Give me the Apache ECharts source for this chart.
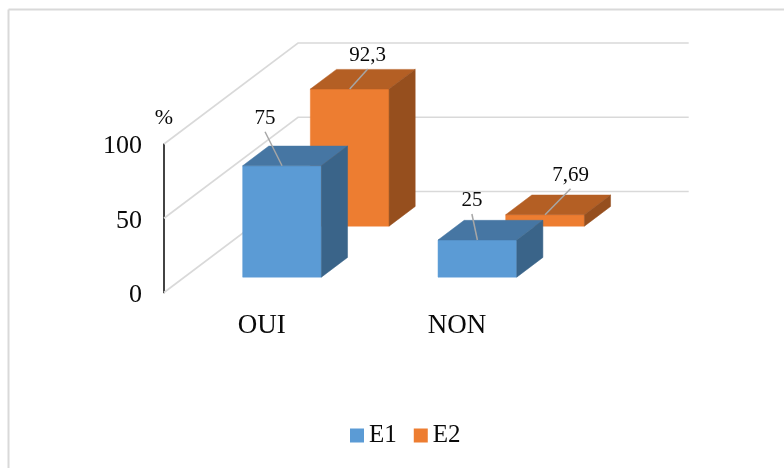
<!DOCTYPE html>
<html>
<head>
<meta charset="utf-8">
<style>
  html, body { margin: 0; padding: 0; background: #fff; }
  #chart { width: 784px; height: 468px; }
</style>
<script src="https://cdn.jsdelivr.net/npm/echarts@6/dist/echarts.min.js"></script>
</head>
<body>
<div id="chart"></div>
<script>
const categories = ['OUI', 'NON'];
const seriesE1 = [75, 25];
const seriesE2 = [92.3, 7.69];
const valueTicks = [0, 50, 100];

// Oblique projection: how far the back wall sits from the axis plane, in pixels.
const WALL_DX = 134;
const WALL_DY = -101;
const FONT = '"Liberation Serif", "Times New Roman", serif';
const GRID_COLOR = '#D9D9D9';
const TEXT_COLOR = '#0A0A0A';

// Where each row of bars sits along the depth, and how deep a bar is.
const BAR_DEPTH = 0.195;
const BAR_WIDTH_RATIO = 0.403;
const rows = {
  E1: { depth: 0.152, colors: ['#5B9BD5', '#4676A3', '#3A6489'],
        leader: [[-17, -34], [-5.5, -26]] },
  E2: { depth: 0.657, colors: ['#ED7D31', '#B45F24', '#964F1E'],
        leader: [[18, -20], [25.5, -26]] }
};

function formatValue(v) {
  return String(v).replace('.', ',');
}

// Back wall: one line per tick, running from the axis back and then along the wall.
function renderWall(params, api) {
  const rect = params.coordSys;
  const p = api.coord([0, api.value(0)]);
  const y = p[1];
  const x0 = rect.x;
  return {
    type: 'polyline',
    shape: { points: [
      [x0, y],
      [x0 + WALL_DX, y + WALL_DY],
      [x0 + rect.width + WALL_DX, y + WALL_DY]
    ] },
    style: { stroke: GRID_COLOR, lineWidth: 1.6, fill: null },
    silent: true
  };
}

// One oblique box: front, top and side faces, plus leader line and value label.
function renderBox(row) {
  return function (params, api) {
    const cat = api.value(0);
    const val = api.value(1);
    const band = api.size([1, 0])[0];
    const w = band * BAR_WIDTH_RATIO;
    const top = api.coord([cat, val]);
    const base = api.coord([cat, 0]);
    const ox = WALL_DX * row.depth;
    const oy = WALL_DY * row.depth;
    const dx = WALL_DX * BAR_DEPTH;
    const dy = WALL_DY * BAR_DEPTH;
    const left = top[0] - w / 2 + ox;
    const right = left + w;
    const yTop = top[1] + oy;
    const yBase = base[1] + oy;
    const midX = (left + right) / 2;
    const off = row.leader[params.dataIndex];
    const face = (points, fill) => ({
      type: 'polygon',
      shape: { points },
      style: { fill, stroke: fill, lineWidth: 0.5 }
    });
    return {
      type: 'group',
      children: [
        face([[left, yBase], [right, yBase], [right, yTop], [left, yTop]], row.colors[0]),
        face([[left, yTop], [right, yTop], [right + dx, yTop + dy], [left + dx, yTop + dy]], row.colors[1]),
        face([[right, yBase], [right + dx, yBase + dy], [right + dx, yTop + dy], [right, yTop]], row.colors[2]),
        {
          type: 'line',
          shape: { x1: midX, y1: yTop, x2: midX + off[0], y2: yTop + off[1] },
          style: { stroke: '#A6A6A6', lineWidth: 1.5 }
        },
        {
          type: 'text',
          style: {
            x: midX + off[0],
            y: yTop + off[1] - 3,
            text: formatValue(val),
            font: '21px ' + FONT,
            fill: TEXT_COLOR,
            align: 'center',
            verticalAlign: 'bottom'
          }
        }
      ]
    };
  };
}

const chart = echarts.init(document.getElementById('chart'), null, { renderer: 'canvas' });

chart.setOption({
  animation: false,
  backgroundColor: '#fff',
  grid: { left: 164, top: 144, width: 390.7, height: 148.5 },
  legend: {
    left: 345,
    top: 418,
    itemWidth: 14,
    itemHeight: 14,
    itemGap: 17,
    icon: 'rect',
    selectedMode: false,
    data: ['E1', 'E2'],
    textStyle: { fontFamily: FONT, fontSize: 25, color: TEXT_COLOR }
  },
  xAxis: {
    type: 'category',
    data: categories,
    axisLine: { show: false },
    axisTick: { show: false },
    splitLine: { show: false },
    axisLabel: { fontFamily: FONT, fontSize: 27, color: TEXT_COLOR, margin: 20 }
  },
  yAxis: {
    type: 'value',
    min: 0,
    max: 100,
    interval: 50,
    name: '%',
    nameLocation: 'end',
    nameGap: 15,
    nameTextStyle: { fontFamily: FONT, fontSize: 22, color: TEXT_COLOR },
    axisLine: { show: true, lineStyle: { color: '#222', width: 1.7 } },
    axisTick: { show: false },
    splitLine: { show: false },
    axisLabel: {
      margin: 22,
      formatter: '{tick|{value}}',
      rich: {
        tick: { fontFamily: FONT, fontSize: 26, color: TEXT_COLOR, padding: [5, 0, 0, 0] }
      }
    }
  },
  series: [
    {
      name: 'wall',
      type: 'custom',
      coordinateSystem: 'cartesian2d',
      z: 1,
      silent: true,
      renderItem: renderWall,
      encode: { x: 1, y: 0 },
      data: valueTicks.map(t => [t, 0])
    },
    {
      name: 'E2',
      type: 'custom',
      z: 2,
      itemStyle: { color: rows.E2.colors[0] },
      renderItem: renderBox(rows.E2),
      encode: { x: 0, y: 1 },
      data: seriesE2.map((v, i) => [i, v])
    },
    {
      name: 'E1',
      type: 'custom',
      z: 3,
      itemStyle: { color: rows.E1.colors[0] },
      renderItem: renderBox(rows.E1),
      encode: { x: 0, y: 1 },
      data: seriesE1.map((v, i) => [i, v])
    }
  ],
  graphic: [
    { type: 'line', silent: true, shape: { x1: 8.5, y1: 9.5, x2: 784, y2: 9.5 }, style: { stroke: GRID_COLOR, lineWidth: 2 } },
    { type: 'line', silent: true, shape: { x1: 8.5, y1: 9.5, x2: 8.5, y2: 468 }, style: { stroke: GRID_COLOR, lineWidth: 2 } }
  ]
});
</script>
</body>
</html>
